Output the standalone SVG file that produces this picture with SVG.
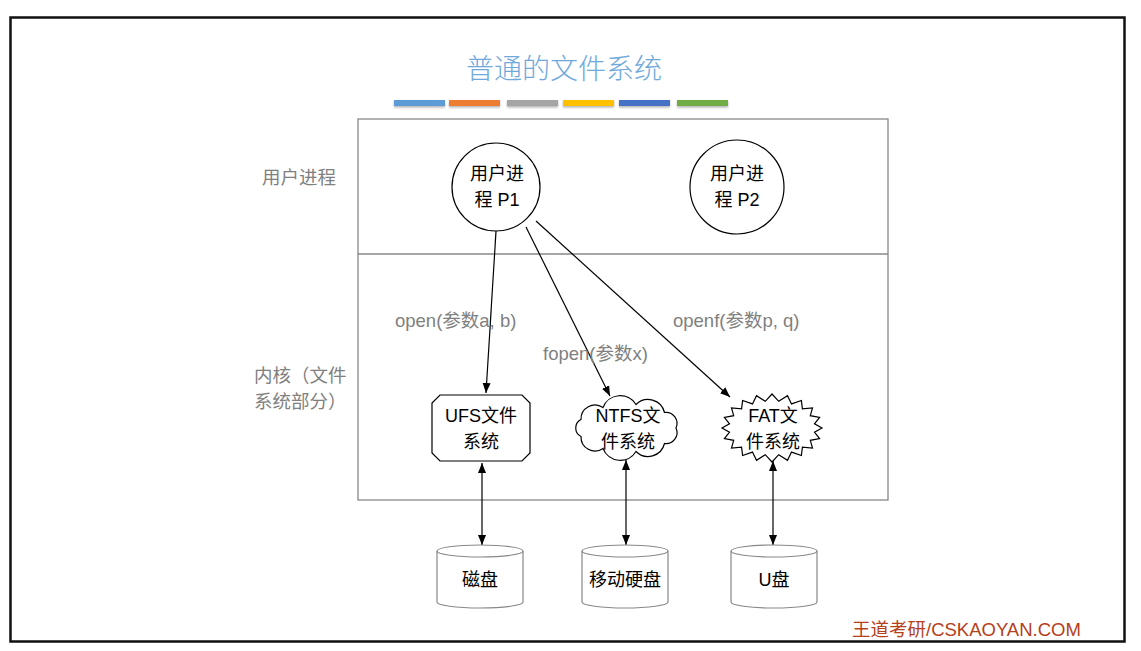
<svg xmlns="http://www.w3.org/2000/svg" width="1141" height="651" viewBox="0 0 1141 651">
<style>
.lbl{font-family:"Liberation Sans","Noto Sans CJK SC",sans-serif;font-size:18.5px;fill:#808080;}
.nt{font-family:"Liberation Sans","Noto Sans CJK SC",sans-serif;font-size:18px;fill:#000;text-anchor:middle;}
.shape{fill:#fff;stroke:#000;stroke-width:1.2;}
.cyl{fill:#fff;stroke:#888;stroke-width:1.2;}
.ln{stroke:#000;stroke-width:1.2;fill:none;}
</style>
<defs>
<marker id="ah" viewBox="0 0 10 10" refX="10" refY="5" markerWidth="10" markerHeight="10" markerUnits="userSpaceOnUse" orient="auto-start-reverse">
<path d="M0,1 L10,5 L0,9 z" fill="#000"/>
</marker>
<filter id="sh" x="-10%" y="-50%" width="120%" height="250%"><feDropShadow dx="0" dy="1.5" stdDeviation="1" flood-color="#000" flood-opacity="0.3"/></filter>
</defs>
<rect x="0" y="0" width="1141" height="651" fill="#fff"/>
<rect x="10.5" y="17.5" width="1114" height="624" fill="none" stroke="#111" stroke-width="2.5"/>
<g id="title">
<text x="564" y="79" text-anchor="middle" style="font-family:'Noto Sans CJK SC',sans-serif;font-size:28px;fill:#6FA8DC;font-weight:300">普通的文件系统</text>
<g filter="url(#sh)">
<rect x="394" y="100" width="51" height="6" fill="#5B9BD5"/>
<rect x="449" y="100" width="51" height="6" fill="#ED7D31"/>
<rect x="507" y="100" width="51" height="6" fill="#A5A5A5"/>
<rect x="563" y="100" width="51" height="6" fill="#FFC000"/>
<rect x="619" y="100" width="51" height="6" fill="#4472C4"/>
<rect x="677" y="100" width="51" height="6" fill="#70AD47"/>
</g>
</g>
<g id="frame">
<rect x="358" y="119" width="530" height="381" fill="none" stroke="#888" stroke-width="1.3"/>
<line x1="358" y1="254" x2="888" y2="254" stroke="#888" stroke-width="1.3"/>
<text class="lbl" x="262" y="184">用户进程</text>
<text class="lbl" x="254" y="382">内核（文件</text>
<text class="lbl" x="254" y="408">系统部分）</text>
</g>
<g id="connectors">
<line class="ln" x1="496" y1="231" x2="486" y2="393" marker-end="url(#ah)"/>
<line class="ln" x1="526" y1="227" x2="610" y2="396" marker-end="url(#ah)"/>
<line class="ln" x1="536" y1="221" x2="730" y2="397" marker-end="url(#ah)"/>
<line class="ln" x1="482" y1="463" x2="482" y2="545" marker-start="url(#ah)" marker-end="url(#ah)"/>
<line class="ln" x1="626" y1="460" x2="626" y2="545" marker-start="url(#ah)" marker-end="url(#ah)"/>
<line class="ln" x1="773" y1="461" x2="773" y2="545" marker-start="url(#ah)" marker-end="url(#ah)"/>
<text class="lbl" x="395" y="327">open(参数a, b)</text>
<text class="lbl" x="543" y="360">fopen(参数x)</text>
<text class="lbl" x="673" y="327">openf(参数p, q)</text>
</g>
<g id="p1">
<circle class="shape" cx="496" cy="187" r="44"/>
<text class="nt" x="497" y="180">用户进</text>
<text class="nt" x="497" y="206">程 P1</text>
</g>
<g id="p2">
<circle class="shape" cx="737" cy="187" r="47"/>
<text class="nt" x="737" y="180">用户进</text>
<text class="nt" x="737" y="206">程 P2</text>
</g>
<g id="ufs">
<path class="shape" d="M440,395 H522 L530,403 V453 L522,461 H440 L432,453 V403 Z"/>
<text class="nt" x="481" y="422">UFS文件</text>
<text class="nt" x="481" y="448">系统</text>
</g>
<g id="ntfs">
<path class="shape" d="M676,428 A11,11 0 0 1 664.5,443.5 A17,17 0 0 1 636,451.5 A18.5,18.5 0 0 1 603,448.5 A14,14 0 0 1 581,436.5 A9.5,9.5 0 0 1 581,419.5 A14,14 0 0 1 603,407.5 A18.5,18.5 0 0 1 636,404.5 A17,17 0 0 1 664.5,412.5 A11,11 0 0 1 676,428 Z"/>
<text class="nt" x="628" y="422">NTFS文</text>
<text class="nt" x="628" y="448">件系统</text>
</g>
<g id="fat">
<polygon class="shape" points="822,428 814.5,432.2 819.6,438.5 810.3,440.3 812.5,448 802.4,447.1 801.4,455.5 791.5,452.1 787.5,460.3 778.7,454.7 772,462 765.3,454.7 756.5,460.3 752.5,452.1 742.6,455.5 741.6,447.1 731.5,448 733.7,440.3 724.4,438.5 729.5,432.2 722,428 729.5,423.8 724.4,417.5 733.7,415.7 731.5,408 741.6,408.9 742.6,400.5 752.5,403.9 756.5,395.7 765.3,401.3 772,394 778.7,401.3 787.5,395.7 791.5,403.9 801.4,400.5 802.4,408.9 812.5,408 810.3,415.7 819.6,417.5 814.5,423.8"/>
<text class="nt" x="773" y="422">FAT文</text>
<text class="nt" x="773" y="448">件系统</text>
</g>
<g id="disk1">
<path class="cyl" d="M437,551 A43,6 0 0 1 523,551 V602 A43,6 0 0 1 437,602 Z"/>
<path class="cyl" fill="none" d="M437,551 A43,6 0 0 0 523,551"/>
<text class="nt" x="480" y="586">磁盘</text>
</g>
<g id="disk2">
<path class="cyl" d="M582,551 A43,6 0 0 1 668,551 V602 A43,6 0 0 1 582,602 Z"/>
<path class="cyl" fill="none" d="M582,551 A43,6 0 0 0 668,551"/>
<text class="nt" x="625" y="586">移动硬盘</text>
</g>
<g id="disk3">
<path class="cyl" d="M731,551 A43,6 0 0 1 817,551 V602 A43,6 0 0 1 731,602 Z"/>
<path class="cyl" fill="none" d="M731,551 A43,6 0 0 0 817,551"/>
<text class="nt" x="774" y="586">U盘</text>
</g>
<text x="852" y="636" style="font-family:'Liberation Sans','Noto Sans CJK SC',sans-serif;font-size:18.5px;fill:#B5401A">王道考研/CSKAOYAN.COM</text>
</svg>
